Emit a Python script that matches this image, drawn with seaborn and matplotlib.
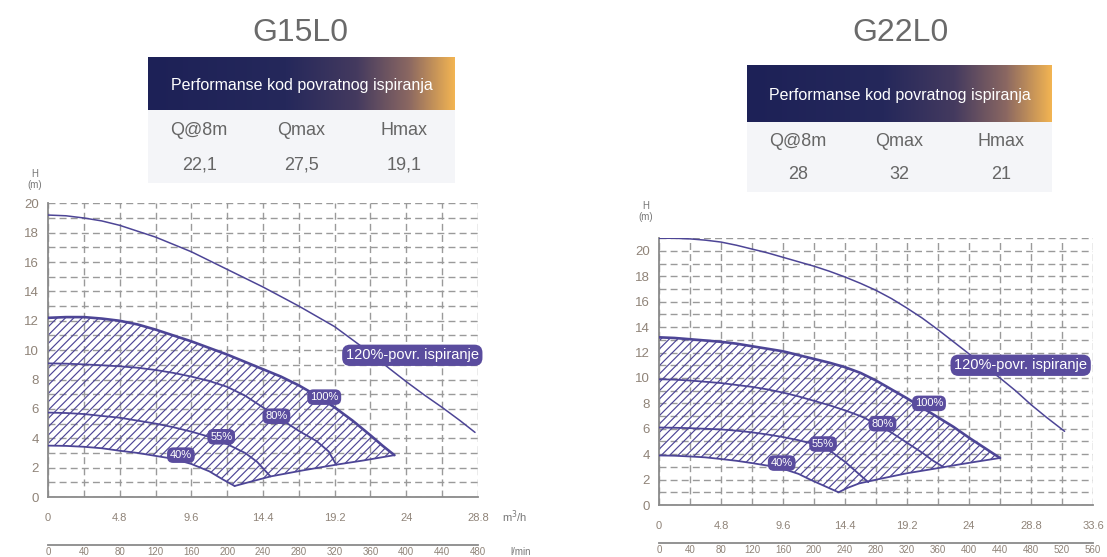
import numpy as np
import matplotlib
matplotlib.use('Agg')
import matplotlib.pyplot as plt
import seaborn as sns
from matplotlib.colors import LinearSegmentedColormap

sns.set_style('white')
plt.rcParams['font.family'] = ['Liberation Sans', 'DejaVu Sans']
plt.rcParams['hatch.linewidth'] = 0.85

# ---------------- data ----------------
titles = ['G15L0', 'G22L0']
header_text = 'Performanse kod povratnog ispiranja'
table_cols = ['Q@8m', 'Qmax', 'Hmax']
table_vals_g15 = ['22,1', '27,5', '19,1']
table_vals_g22 = ['28', '32', '21']

# G15L0 curves (Q in m3/h, H in m)
g15_120_q = [0, 1.2, 2.4, 3.6, 4.8, 6.0, 7.2, 8.4, 9.6, 10.8, 12.0, 13.2, 14.4, 15.6,
             16.8, 18.0, 19.2, 20.4, 21.6, 22.8, 24.0, 25.2, 26.4, 27.6, 28.6]
g15_120_h = [19.2, 19.15, 19.0, 18.8, 18.5, 18.1, 17.7, 17.2, 16.7, 16.1, 15.5, 14.9, 14.3,
             13.65, 13.0, 12.3, 11.6, 10.7, 9.8, 8.8, 7.85, 6.95, 6.1, 5.2, 4.4]
g15_100_q = [0, 1.2, 2.4, 3.6, 4.8, 6, 7.2, 8.4, 9.6, 10.8, 12, 13.2, 14.4, 15.6, 16.8,
             18, 19.2, 20.4, 21.6, 22.4, 23.2]
g15_100_h = [12.2, 12.25, 12.25, 12.15, 12.0, 11.75, 11.4, 11.0, 10.6, 10.15, 9.7, 9.2,
             8.7, 8.2, 7.6, 6.9, 6.1, 5.2, 4.2, 3.5, 2.85]
g15_edge_q = [23.2, 21.2, 19.3, 17.0, 14.9, 13.6, 12.5]
g15_edge_h = [2.85, 2.5, 2.2, 1.8, 1.4, 1.05, 0.75]
g15_80_q = [0, 1.2, 2.4, 3.6, 4.8, 6, 7.2, 8.4, 9.6, 10.8, 12, 13.2, 14.4, 15.6, 16.8, 18, 18.8, 19.3]
g15_80_h = [9.1, 9.08, 9.03, 8.97, 8.9, 8.8, 8.65, 8.45, 8.2, 7.9, 7.5, 6.9, 6.1, 5.3, 4.5, 3.8, 3.1, 2.2]
g15_55_q = [0, 1.2, 2.4, 3.6, 4.8, 6, 7.2, 8.4, 9.6, 10.8, 12, 13.2, 14.0, 14.9]
g15_55_h = [5.75, 5.72, 5.65, 5.52, 5.4, 5.2, 5.0, 4.75, 4.45, 4.1, 3.6, 3.0, 2.4, 1.4]
g15_40_q = [0, 1.2, 2.4, 3.6, 4.8, 6, 7.2, 8.4, 9.6, 10.8, 11.7, 12.5]
g15_40_h = [3.5, 3.48, 3.42, 3.32, 3.15, 3.0, 2.8, 2.6, 2.25, 1.75, 1.2, 0.75]
g15_label_text = ['120%-povr. ispiranje', '100%', '80%', '55%', '40%']
g15_label_q = [24.4, 18.5, 15.3, 11.6, 8.9]
g15_label_h = [9.65, 6.8, 5.5, 4.1, 2.85]

# G22L0 curves
g22_120_q = [0, 1.2, 2.4, 3.6, 4.8, 6, 7.2, 8.4, 9.6, 10.8, 12, 13.2, 14.4, 15.6, 16.8,
             18, 19.2, 20.4, 21.6, 22.8, 24, 25.2, 26.4, 27.6, 28.8, 30, 31.4]
g22_120_h = [21.0, 21.0, 20.95, 20.85, 20.7, 20.45, 20.15, 19.85, 19.5, 19.15, 18.8, 18.4,
             17.95, 17.45, 16.9, 16.25, 15.5, 14.7, 13.8, 12.85, 11.9, 10.95, 10.0, 9.0, 7.9, 6.9, 5.8]
g22_100_q = [0, 1.2, 2.4, 3.6, 4.8, 6, 7.2, 8.4, 9.6, 10.8, 12, 13.2, 14.4, 15.6, 16.8,
             18, 19.2, 20.4, 21.6, 22.8, 24, 25.2, 26.4]
g22_100_h = [13.2, 13.15, 13.05, 12.95, 12.85, 12.7, 12.5, 12.3, 12.1, 11.8, 11.5, 11.2,
             10.85, 10.4, 9.8, 9.1, 8.4, 7.65, 6.9, 6.15, 5.3, 4.5, 3.7]
g22_edge_q = [26.4, 24.5, 23, 21, 19.2, 17.3, 15.5, 14.6, 13.9]
g22_edge_h = [3.7, 3.4, 3.15, 2.8, 2.5, 2.1, 1.7, 1.35, 1.0]
g22_80_q = [0, 1.2, 2.4, 3.6, 4.8, 6, 7.2, 8.4, 9.6, 10.8, 12, 13.2, 14.4, 15.6, 16.8,
            18, 19.2, 20.4, 21.2, 22]
g22_80_h = [9.9, 9.87, 9.8, 9.7, 9.6, 9.45, 9.3, 9.1, 8.85, 8.55, 8.2, 7.85, 7.45, 7.0,
            6.4, 5.7, 4.9, 4.1, 3.5, 3.0]
g22_55_q = [0, 1.2, 2.4, 3.6, 4.8, 6, 7.2, 8.4, 9.6, 10.8, 12, 13.2, 14.4, 15.3, 16.2]
g22_55_h = [6.1, 6.08, 6.05, 6.0, 5.95, 5.85, 5.72, 5.55, 5.35, 5.1, 4.8, 4.3, 3.4, 2.6, 1.8]
g22_40_q = [0, 1.2, 2.4, 3.6, 4.8, 6, 7.2, 8.4, 9.6, 10.8, 11.7, 12.8, 13.9]
g22_40_h = [3.9, 3.88, 3.82, 3.75, 3.62, 3.48, 3.3, 3.1, 2.85, 2.45, 2.0, 1.5, 1.0]
g22_label_text = ['120%-povr. ispiranje', '100%', '80%', '55%', '40%']
g22_label_q = [28.0, 20.9, 17.3, 12.7, 9.5]
g22_label_h = [11.0, 8.0, 6.4, 4.8, 3.3]

g15_qmax, g15_hmax = 28.8, 20
g22_qmax, g22_hmax = 33.6, 21

# ---------------- styling ----------------
W, H = 1107, 557
PURPLE = '#4d4596'
BOXC = '#5a4c9e'
GRID = '#9a9a9a'
TICKC = '#8f8378'
grad_cmap = LinearSegmentedColormap.from_list(
    'hdr', [(0, '#1d2157'), (0.45, '#25285b'), (0.68, '#443a5f'),
            (0.85, '#8a6762'), (1.0, '#f2b452')])

fig = plt.figure(figsize=(W / 100, H / 100), dpi=100)


def px_rect(x0, y0, x1, y1):
    return [x0 / W, 1 - y1 / H, (x1 - x0) / W, (y1 - y0) / H]


def draw_header(x0, x1, y_top, y_mid, y_bot, title_x, title, vals):
    fig.text(title_x / W, 1 - 33 / H, title, fontsize=23, color='#6a6a6a',
             ha='center', va='center')
    ah = fig.add_axes(px_rect(x0, y_top, x1, y_mid))
    ah.imshow(np.linspace(0, 1, 256)[None, :], cmap=grad_cmap, aspect='auto',
              extent=[0, 1, 0, 1])
    ah.axis('off')
    ah.text(0.5, 0.47, header_text, color='white', fontsize=11.5, ha='center',
            va='center')
    ab = fig.add_axes(px_rect(x0, y_mid, x1, y_bot))
    ab.set_facecolor('#f4f5f8')
    ab.set_xticks([])
    ab.set_yticks([])
    for s in ab.spines.values():
        s.set_visible(False)
    for i, (c, v) in enumerate(zip(table_cols, vals)):
        xx = (i + 0.5) / 3
        ab.text(xx, 0.72, c, fontsize=13, color='#666666', ha='center', va='center')
        ab.text(xx, 0.25, v, fontsize=13, color='#666666', ha='center', va='center')


def draw_chart(rect, qmax, hmax, c120, c100, edge, c80, c55, c40, labels, sec_loc,
               unit_label):
    ax = fig.add_axes(rect)
    q120, h120 = c120
    # hatched operating region
    poly_q = np.concatenate([c100[0], edge[0][1:], c40[0][::-1][1:]])
    poly_h = np.concatenate([c100[1], edge[1][1:], c40[1][::-1][1:]])
    ax.fill(poly_q, poly_h, facecolor='none', edgecolor=PURPLE, hatch='////',
            linewidth=0, zorder=2)
    sns.lineplot(x=q120, y=h120, sort=False, estimator=None, color=PURPLE, lw=1.1,
                 ax=ax, zorder=3)
    sns.lineplot(x=c100[0], y=c100[1], sort=False, estimator=None, color=PURPLE, lw=1.9,
                 ax=ax, zorder=3)
    for cq, ch in (edge, c80, c55, c40):
        sns.lineplot(x=cq, y=ch, sort=False, estimator=None, color=PURPLE, lw=1.3,
                     ax=ax, zorder=3)
    txts, lq, lh = labels
    for k, (t, x, y) in enumerate(zip(txts, lq, lh)):
        ax.text(x, y, t, fontsize=10.5 if k == 0 else 8, color='white',
                ha='center', va='center', zorder=5,
                bbox=dict(boxstyle='round,pad=0.25,rounding_size=0.55', fc=BOXC,
                          ec='none'))

    ax.set_xlim(0, qmax)
    ax.set_ylim(0, hmax + 0.02)
    ax.set_xticks(np.arange(0, qmax + 0.01, 4.8))
    ax.set_xticklabels([f'{v:g}' for v in np.arange(0, qmax + 0.01, 4.8)])
    ax.set_xticks(np.arange(2.4, qmax, 4.8), minor=True)
    ax.set_yticks(np.arange(0, hmax + 0.01, 2))
    ax.set_yticks(np.arange(1, hmax + 0.01, 2), minor=True)
    ax.grid(True, which='both', color=GRID, linestyle=(0, (5, 3)), lw=1.0)
    for s in ('top', 'right'):
        ax.spines[s].set_visible(False)
    for s in ('left', 'bottom'):
        ax.spines[s].set_color('#8a8a8a')
        ax.spines[s].set_linewidth(1.3)
    ax.tick_params(which='both', direction='inout', length=7, color='#8a8a8a',
                   width=1.0, labelcolor=TICKC)
    ax.tick_params(axis='x', which='major', labelsize=8, pad=8)
    ax.tick_params(axis='y', which='major', labelsize=9.5, pad=3)
    ax.set_xlabel('')
    ax.set_ylabel('')
    ax.text(-0.03, 1.08 if hmax == 20 else 1.1, 'H\n(m)', transform=ax.transAxes,
            fontsize=7, color='#777777', ha='center', va='center', linespacing=1.1)

    sec = ax.secondary_xaxis(sec_loc, functions=(lambda q: q * 1000 / 60,
                                                 lambda l: l * 60 / 1000))
    lmax = qmax * 1000 / 60
    sec.set_xticks(np.arange(0, lmax + 1, 40))
    sec.set_xticklabels([f'{v:g}' for v in np.arange(0, lmax + 1, 40)])
    sec.set_xticks(np.arange(0, lmax + 1, 80), minor=True)
    sec.tick_params(which='major', length=0, pad=1.5, labelsize=7, labelcolor=TICKC)
    sec.tick_params(which='minor', direction='in', length=6, color='#8a8a8a', width=1.0)
    sec.spines['bottom'].set_color('#8a8a8a')
    sec.spines['bottom'].set_linewidth(1.3)
    if unit_label:
        ax.text(1.085, -0.068, r'm$^{3}$/h', transform=ax.transAxes, fontsize=8,
                color='#777777', ha='center', va='center')
        ax.text(1.1, -0.188, 'l/min', transform=ax.transAxes, fontsize=7,
                color='#777777', ha='center', va='center')
    return ax


draw_header(148, 455, 57, 110, 183, 300, titles[0], table_vals_g15)
draw_header(747, 1052, 65, 122, 192, 900, titles[1], table_vals_g22)

draw_chart(px_rect(48, 203, 478, 497), g15_qmax, g15_hmax,
           (g15_120_q, g15_120_h), (g15_100_q, g15_100_h), (g15_edge_q, g15_edge_h),
           (g15_80_q, g15_80_h), (g15_55_q, g15_55_h), (g15_40_q, g15_40_h),
           (g15_label_text, g15_label_q, g15_label_h), -0.163, True)
draw_chart(px_rect(659, 238, 1093, 505), g22_qmax, g22_hmax,
           (g22_120_q, g22_120_h), (g22_100_q, g22_100_h), (g22_edge_q, g22_edge_h),
           (g22_80_q, g22_80_h), (g22_55_q, g22_55_h), (g22_40_q, g22_40_h),
           (g22_label_text, g22_label_q, g22_label_h), -0.142, False)

fig.savefig('out.png', dpi=100)
